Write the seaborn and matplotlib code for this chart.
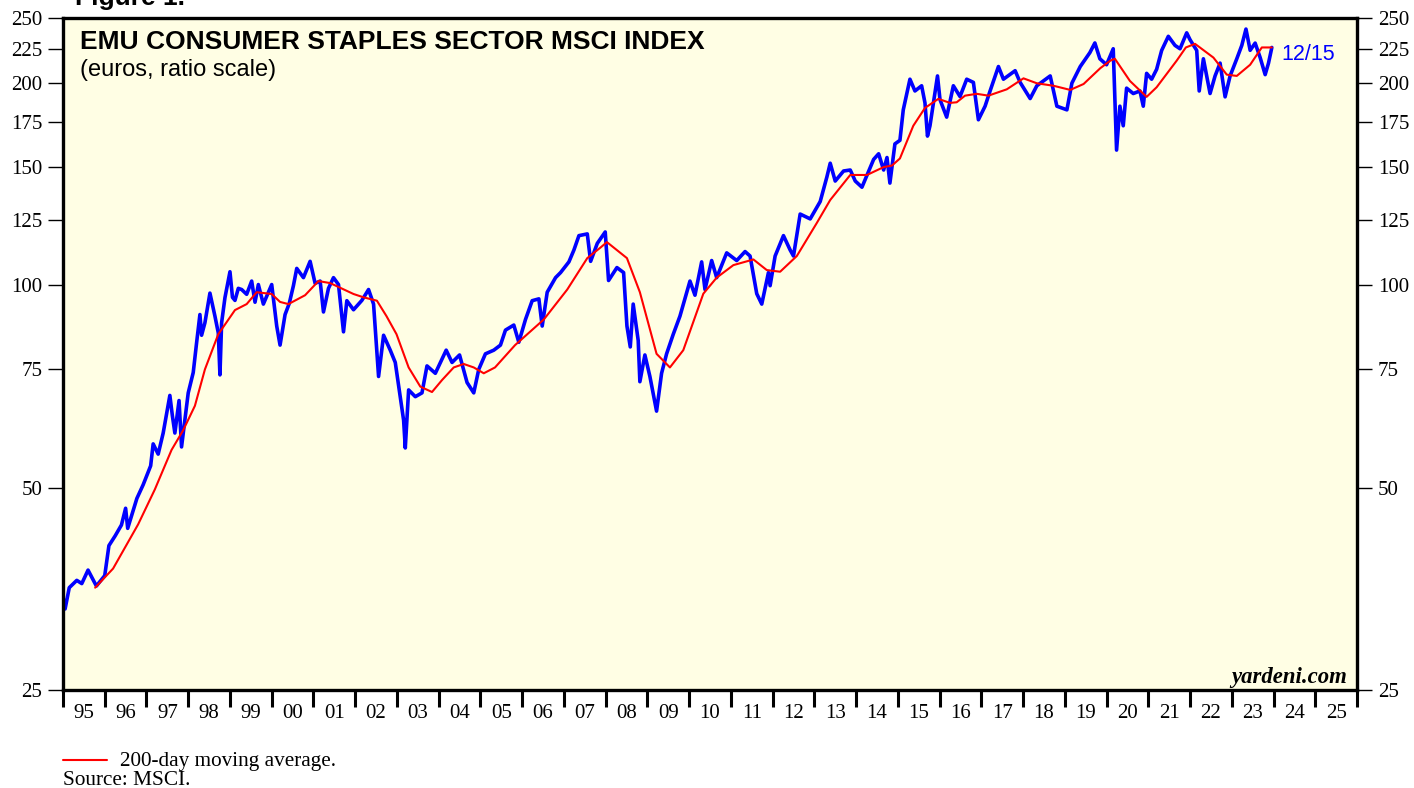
import numpy as np
import pandas as pd
import matplotlib
matplotlib.use("Agg")
import matplotlib.pyplot as plt
import seaborn as sns
from matplotlib.lines import Line2D
from matplotlib.ticker import FixedLocator, FixedFormatter, NullLocator, NullFormatter

# index level (decimal year, euros)
index_years = [
    1995.00, 1995.05, 1995.15, 1995.33, 1995.45, 1995.60, 1995.80, 1996.00, 1996.10, 1996.25,
    1996.40, 1996.50, 1996.55, 1996.77, 1996.92, 1997.10, 1997.16, 1997.28, 1997.40, 1997.56,
    1997.62, 1997.68, 1997.78, 1997.84, 1998.00, 1998.12, 1998.20, 1998.28, 1998.32, 1998.40,
    1998.52, 1998.64, 1998.72, 1998.76, 1998.80, 1998.88, 1999.00, 1999.06, 1999.12, 1999.20,
    1999.28, 1999.40, 1999.52, 1999.60, 1999.68, 1999.80, 1999.90, 2000.00, 2000.12, 2000.20,
    2000.32, 2000.42, 2000.52, 2000.60, 2000.76, 2000.92, 2001.04, 2001.16, 2001.24, 2001.36,
    2001.48, 2001.60, 2001.72, 2001.80, 2001.96, 2002.16, 2002.32, 2002.44, 2002.56, 2002.68,
    2002.84, 2002.96, 2003.08, 2003.16, 2003.20, 2003.28, 2003.44, 2003.60, 2003.72, 2003.92,
    2004.18, 2004.32, 2004.50, 2004.68, 2004.84, 2004.96, 2005.12, 2005.32, 2005.48, 2005.60,
    2005.80, 2005.92, 2006.08, 2006.24, 2006.40, 2006.48, 2006.60, 2006.80, 2006.92, 2007.12,
    2007.24, 2007.36, 2007.56, 2007.64, 2007.80, 2007.99, 2008.07, 2008.27, 2008.43, 2008.51,
    2008.59, 2008.66, 2008.78, 2008.82, 2008.94, 2009.06, 2009.22, 2009.34, 2009.46, 2009.62,
    2009.78, 2010.02, 2010.14, 2010.30, 2010.38, 2010.54, 2010.66, 2010.90, 2011.14, 2011.34,
    2011.46, 2011.62, 2011.74, 2011.90, 2011.94, 2012.06, 2012.26, 2012.42, 2012.50, 2012.66,
    2012.90, 2013.14, 2013.30, 2013.38, 2013.50, 2013.70, 2013.86, 2013.98, 2014.14, 2014.42,
    2014.54, 2014.66, 2014.74, 2014.81, 2014.93, 2015.05, 2015.13, 2015.29, 2015.41, 2015.57,
    2015.65, 2015.71, 2015.77, 2015.95, 2016.01, 2016.17, 2016.33, 2016.49, 2016.65, 2016.81,
    2016.93, 2017.09, 2017.21, 2017.41, 2017.53, 2017.81, 2017.93, 2018.17, 2018.33, 2018.65,
    2018.81, 2019.05, 2019.17, 2019.37, 2019.60, 2019.72, 2019.84, 2020.00, 2020.16, 2020.24,
    2020.32, 2020.40, 2020.48, 2020.64, 2020.80, 2020.88, 2020.96, 2021.08, 2021.20, 2021.32,
    2021.48, 2021.64, 2021.76, 2021.92, 2022.00, 2022.16, 2022.22, 2022.32, 2022.48, 2022.60,
    2022.72, 2022.84, 2022.96, 2023.12, 2023.24, 2023.34, 2023.44, 2023.56, 2023.68, 2023.80,
    2023.88, 2023.96,
]
index_values = [
    34.4, 33.0, 35.5, 36.4, 36.0, 37.7, 35.7, 37.0, 41.0, 42.4,
    44.0, 46.6, 43.5, 48.2, 50.5, 53.9, 58.1, 56.1, 60.3, 68.6,
    64.0, 60.3, 67.4, 57.5, 69.2, 74.2, 82.1, 90.5, 84.3, 88.0,
    97.4, 90.0, 85.0, 73.6, 88.0, 95.9, 104.8, 96.0, 95.0, 99.0,
    98.6, 97.0, 101.5, 94.4, 100.3, 93.8, 97.0, 100.3, 87.0, 81.5,
    90.5, 94.0, 99.9, 106.0, 102.7, 108.6, 100.7, 101.5, 91.3, 99.0,
    102.7, 100.3, 85.3, 94.9, 92.0, 95.0, 98.6, 93.8, 73.2, 84.3,
    80.1, 76.8, 68.3, 63.0, 57.3, 69.9, 68.3, 69.2, 75.9, 74.0,
    80.1, 76.8, 78.8, 71.7, 69.2, 75.0, 79.1, 80.1, 81.5, 85.8,
    87.3, 82.3, 89.0, 94.9, 95.5, 87.0, 97.7, 102.7, 104.5, 108.4,
    112.9, 118.6, 119.3, 108.6, 115.5, 120.1, 101.7, 106.3, 104.5, 87.0,
    81.0, 93.8, 82.8, 71.9, 78.8, 73.2, 65.0, 74.0, 79.1, 84.6,
    90.0, 101.5, 96.7, 108.4, 98.6, 108.9, 102.7, 111.8, 108.9, 112.3,
    110.6, 97.2, 93.8, 104.5, 99.9, 110.6, 118.6, 112.9, 110.6, 127.7,
    125.6, 133.3, 145.0, 152.0, 143.0, 148.0, 148.5, 143.0, 140.0, 154.0,
    157.0, 148.5, 155.0, 142.0, 162.4, 164.4, 182.5, 202.7, 194.7, 198.2,
    186.9, 166.8, 172.8, 205.0, 189.0, 178.0, 198.2, 191.0, 202.7, 200.5,
    176.4, 184.8, 194.7, 211.7, 202.7, 208.7, 200.5, 189.7, 198.2, 205.0,
    184.8, 182.5, 200.0, 211.7, 222.0, 229.5, 217.4, 213.0, 225.0, 159.0,
    184.8, 172.8, 196.6, 193.0, 194.7, 184.8, 206.8, 202.7, 209.7, 223.7,
    234.8, 227.6, 225.0, 237.6, 232.1, 223.7, 194.7, 217.4, 193.0, 205.0,
    214.2, 190.8, 205.0, 217.4, 227.6, 240.7, 223.8, 229.4, 218.3, 205.9,
    214.2, 226.0,
]

# 200-day moving average
ma_years = [
    1995.77, 1996.20, 1996.80, 1997.20, 1997.60, 1997.88, 1998.16, 1998.40, 1998.72, 1999.12,
    1999.40, 1999.64, 2000.00, 2000.20, 2000.40, 2000.80, 2001.12, 2001.40, 2001.64, 2001.96,
    2002.20, 2002.52, 2002.75, 2002.99, 2003.28, 2003.56, 2003.84, 2004.08, 2004.36, 2004.60,
    2004.84, 2005.08, 2005.35, 2005.83, 2006.52, 2007.08, 2007.56, 2007.88, 2008.03, 2008.51,
    2008.82, 2009.22, 2009.54, 2009.86, 2010.34, 2010.66, 2011.06, 2011.54, 2011.86, 2012.18,
    2012.58, 2013.06, 2013.38, 2013.86, 2014.26, 2014.66, 2014.86, 2015.05, 2015.37, 2015.65,
    2015.97, 2016.25, 2016.41, 2016.61, 2016.89, 2017.17, 2017.61, 2018.01, 2018.33, 2018.73,
    2019.13, 2019.45, 2019.85, 2020.09, 2020.20, 2020.56, 2020.96, 2021.20, 2021.68, 2021.90,
    2022.12, 2022.56, 2022.88, 2023.12, 2023.44, 2023.72, 2023.96,
]
ma_values = [
    35.5, 37.9, 44.1, 49.7, 56.9, 60.9, 66.2, 75.0, 84.6, 91.9,
    93.8, 97.7, 97.1, 94.5, 93.8, 96.7, 101.5, 100.8, 99.2, 97.1,
    96.0, 94.9, 90.0, 84.6, 75.5, 70.7, 69.4, 72.3, 75.5, 76.4,
    75.5, 74.0, 75.5, 81.5, 89.0, 98.6, 109.8, 113.9, 116.0, 109.8,
    97.7, 79.1, 75.5, 80.1, 97.2, 102.7, 107.2, 109.3, 105.4, 104.8,
    110.6, 123.9, 134.0, 146.0, 146.0, 150.0, 150.8, 154.5, 172.8, 183.7,
    189.5, 186.9, 187.3, 191.6, 192.8, 191.6, 195.8, 203.3, 199.9, 198.2,
    195.4, 199.4, 210.5, 216.0, 217.4, 201.5, 190.8, 197.2, 216.0, 226.0,
    228.8, 218.3, 205.9, 205.0, 213.0, 226.0, 226.0,
]

y_ticks = [25, 50, 75, 100, 125, 150, 175, 200, 225, 250]
year_labels = ["%02d" % (y % 100) for y in range(1995, 2026)]

W, H = 1414, 788

sns.set_style("ticks")
plt.rcParams["font.family"] = ["Liberation Serif", "DejaVu Serif"]
plt.rcParams["text.color"] = "black"
plt.rcParams["xtick.color"] = "black"
plt.rcParams["ytick.color"] = "black"

fig = plt.figure(figsize=(W / 100, H / 100), dpi=100)
ax = fig.add_axes([63 / W, 1 - 690 / H, (1357 - 63) / W, (690 - 18) / H])
ax.set_facecolor("#FFFEE4")

idx = pd.DataFrame({"year": index_years, "value": index_values})
ma = pd.DataFrame({"year": ma_years, "value": ma_values})
sns.lineplot(data=idx, x="year", y="value", ax=ax, color="#0000FF", lw=2.6, estimator=None)
sns.lineplot(data=ma, x="year", y="value", ax=ax, color="#FF0000", lw=1.5, estimator=None)

ax.set_yscale("log")
ax.set_ylim(25, 250)
ax.yaxis.set_major_locator(FixedLocator(y_ticks))
ax.yaxis.set_major_formatter(FixedFormatter([str(v) for v in y_ticks]))
ax.yaxis.set_minor_locator(NullLocator())
ax.yaxis.set_minor_formatter(NullFormatter())
ax.tick_params(axis="y", which="major", left=True, right=True, labelleft=True, labelright=True,
               length=11, width=1, pad=4, labelsize=15, direction="out")

ax.set_xlim(1995, 2026)
ax.xaxis.set_major_locator(FixedLocator(list(range(1995, 2027))))
ax.xaxis.set_major_formatter(NullFormatter())
ax.xaxis.set_minor_locator(FixedLocator([y + 0.5 for y in range(1995, 2026)]))
ax.xaxis.set_minor_formatter(FixedFormatter(year_labels))
ax.tick_params(axis="x", which="major", length=12, width=2.2, direction="out")
ax.tick_params(axis="x", which="minor", length=0, pad=10, labelsize=15)
ax.set_xlabel("")
ax.set_ylabel("")

for s in ax.spines.values():
    s.set_visible(True)
    s.set_linewidth(2.4)
    s.set_color("black")

sans = ["Liberation Sans", "DejaVu Sans"]
fig.text(80 / W, 1 - 49 / H, "EMU CONSUMER STAPLES SECTOR MSCI INDEX", family=sans,
         fontsize=19, fontweight="bold", va="baseline")
fig.text(80 / W, 1 - 76 / H, "(euros, ratio scale)", family=sans, fontsize=17, va="baseline")
fig.text(1281 / W, 1 - 60 / H, "12/15", family=sans, fontsize=15.5, color="#0000FF", va="baseline")
fig.text(1347 / W, 1 - 683 / H, "yardeni.com", fontsize=16.4, fontweight="bold", style="italic",
         ha="right", va="baseline")
fig.text(75 / W, 1 - 5 / H, "Figure 1.", family=sans, fontsize=19, fontweight="bold", va="baseline")

fig.add_artist(Line2D([63 / W, 107 / W], [1 - 760 / H, 1 - 760 / H], color="#FF0000", lw=1.5,
                      transform=fig.transFigure))
fig.text(120 / W, 1 - 766 / H, "200-day moving average.", fontsize=15.3, va="baseline")
fig.text(63 / W, 1 - 785 / H, "Source: MSCI.", fontsize=15.3, va="baseline")

fig.savefig("out.png", dpi=100)
